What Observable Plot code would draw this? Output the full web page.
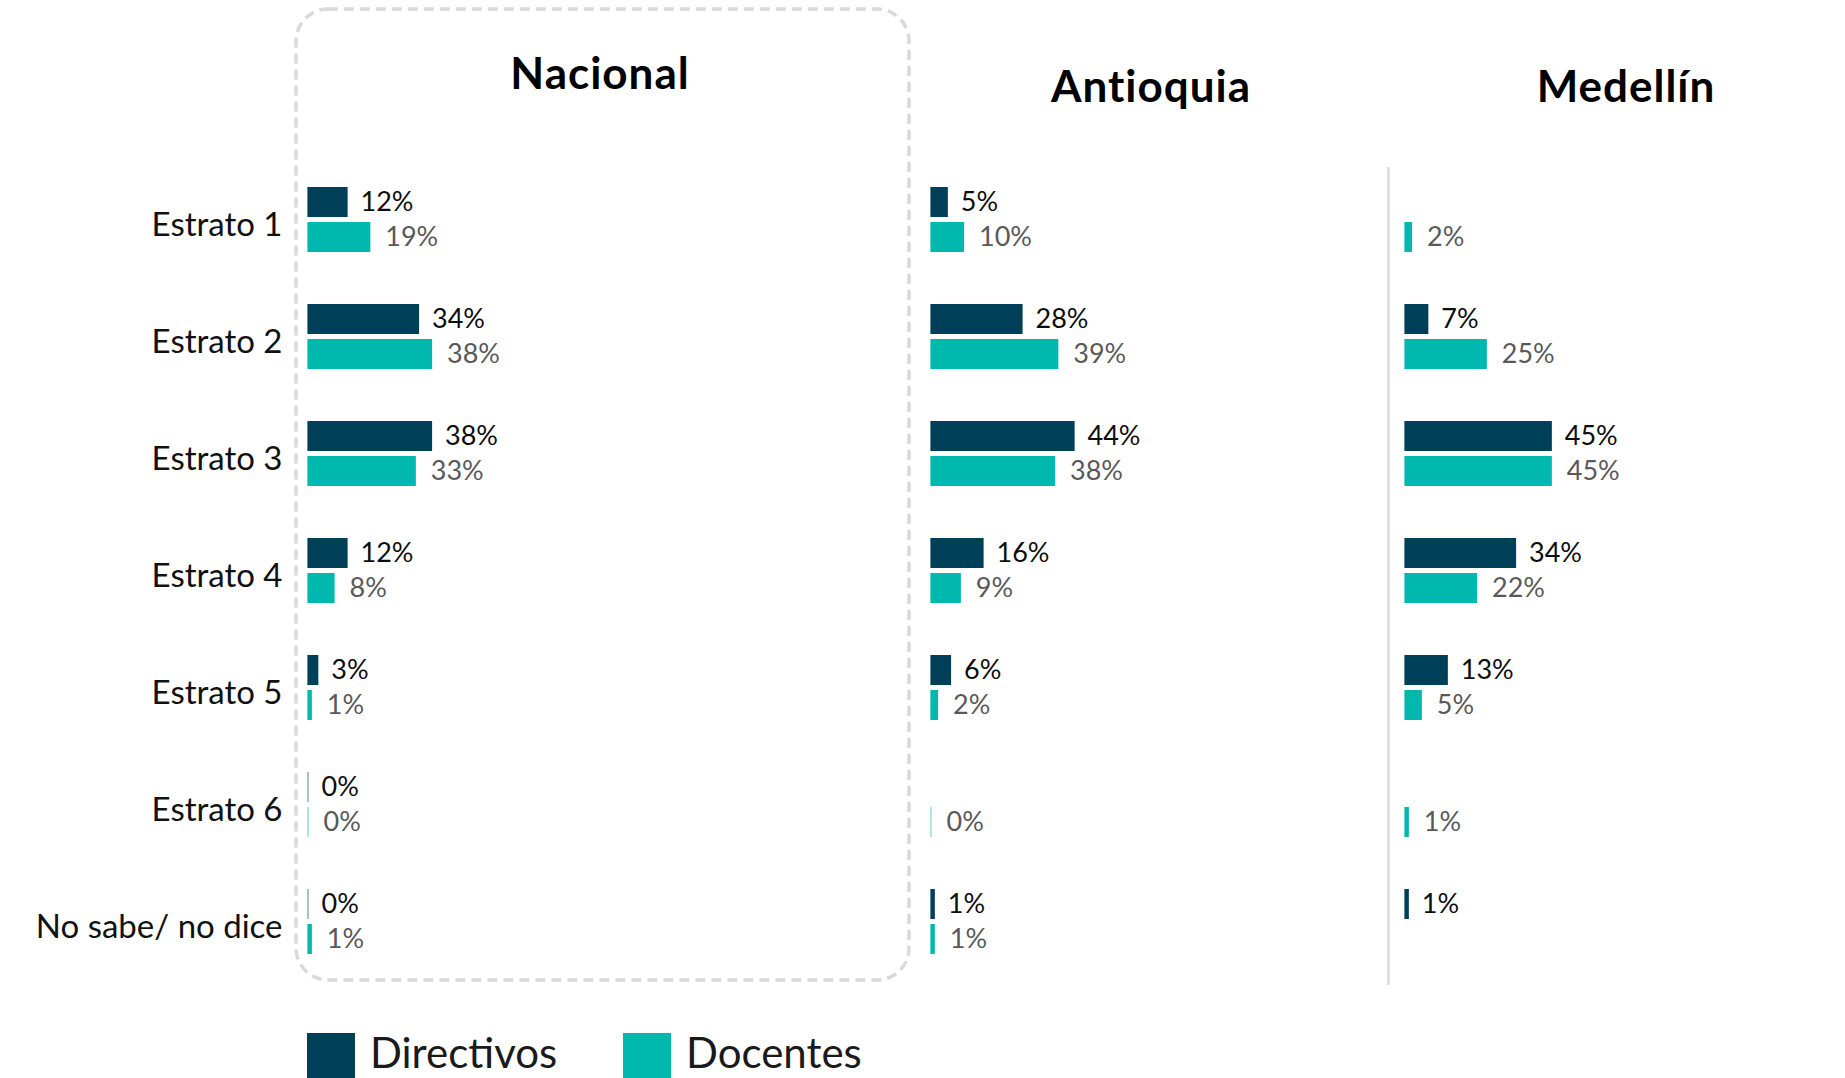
<!DOCTYPE html>
<html><head><meta charset="utf-8">
<script src="https://cdn.jsdelivr.net/npm/d3@7"></script>
<script src="https://cdn.jsdelivr.net/npm/@observablehq/plot@0.6"></script>
<style>
body{margin:0;background:#fff;}
#root{position:relative;width:1845px;height:1078px;overflow:hidden;font-family:Lato,"Noto Sans",sans-serif;background:#fff;}
.layer{position:absolute;top:0;}
</style></head><body><div id="root"></div>
<script>
const estratos = ["Estrato 1","Estrato 2","Estrato 3","Estrato 4","Estrato 5","Estrato 6","No sabe/ no dice"];
const series = ["Directivos","Docentes"];
const colors = ["#003f58","#00b8ae"];
const labelColors = ["#0d0d0d","#595959"];
const regiones = ["Nacional","Antioquia","Medellín"];
const nacionalDirectivos = [12,34,38,12,3,0,0];
const nacionalDocentes = [19,38,33,8,1,0,1];
const antioquiaDirectivos = [5,28,44,16,6,null,1];
const antioquiaDocentes = [10,39,38,9,2,0,1];
const medellinDirectivos = [null,7,45,34,13,null,1];
const medellinDocentes = [2,25,45,22,5,1,null];

const FONT = "Lato, 'Noto Sans', sans-serif";
const root = document.getElementById("root");

// decorative overlay: frame, separator, titles, legend
const ov = d3.select(root).append("svg").attr("class","layer")
  .attr("width",1845).attr("height",1078).style("left","0px");
ov.append("rect").attr("x",296).attr("y",9).attr("width",613).attr("height",971)
  .attr("rx",32).attr("fill","none").attr("stroke","#d9d9d9")
  .attr("stroke-width",3.5).attr("stroke-dasharray","10 6");
ov.append("line").attr("x1",1388.5).attr("x2",1388.5).attr("y1",167).attr("y2",985)
  .attr("stroke","#d9d9d9").attr("stroke-width",2.5);
const titlePos = [[600,89],[1151,102],[1626,102]];
regiones.forEach((r,i)=>{
  ov.append("text").attr("x",titlePos[i][0]).attr("y",titlePos[i][1])
    .attr("text-anchor","middle").attr("font-family",FONT).attr("font-weight",700)
    .attr("font-size",44).attr("letter-spacing",1).attr("fill","#000").text(r);
});
const legX = [307,623];
series.forEach((s,i)=>{
  ov.append("rect").attr("x",legX[i]).attr("y",1033).attr("width",48).attr("height",60).attr("fill",colors[i]);
  ov.append("text").attr("x",legX[i]+63).attr("y",1068).attr("font-family",FONT)
    .attr("font-size",42).attr("fill","#1a1a1a").text(s);
});

function panel(dir, doc, marginLeft, showLabels, left) {
  const data = [];
  estratos.forEach((e,i)=>{
    if (dir[i] != null) data.push({estrato:e, serie:series[0], v:dir[i]});
    if (doc[i] != null) data.push({estrato:e, serie:series[1], v:doc[i]});
  });
  const chart = Plot.plot({
    width: marginLeft + 340, height: 974,
    marginTop: 185, marginBottom: 20, marginLeft, marginRight: 15,
    x: {domain:[0,100], range:[marginLeft, marginLeft+325], axis:null},
    y: {domain: series, paddingInner:0.15, paddingOuter:0, axis:null},
    fy: {domain: estratos, paddingInner:0.436, paddingOuter:0, axis:null},
    color: {domain: series, range: colors},
    style: {fontFamily: FONT, background:"transparent", overflow:"visible"},
    marks: [
      Plot.barX(data, {x:"v", y:"serie", fy:"estrato", fill:"serie", insetLeft:-0.6, insetRight:-0.6,
        fillOpacity: d => d.v === 0 ? 0.55 : 1}),
      Plot.text(data.filter(d=>d.serie===series[0]), {x:"v", y:"serie", fy:"estrato", text:d=>d.v+"%", dx:13, textAnchor:"start", fill:labelColors[0], fontSize:27}),
      Plot.text(data.filter(d=>d.serie===series[1]), {x:"v", y:"serie", fy:"estrato", text:d=>d.v+"%", dx:15, textAnchor:"start", fill:labelColors[1], fontSize:27}),
      showLabels ? Plot.axisFy({anchor:"left", tickSize:0, tickPadding:26, fontSize:33, dy:6, fill:"#111", label:null}) : null
    ]
  });
  chart.classList.add("layer");
  chart.style.left = left + "px";
  root.appendChild(chart);
}
panel(nacionalDirectivos, nacionalDocentes, 308, true, 0);
panel(antioquiaDirectivos, antioquiaDocentes, 10, false, 921);
panel(medellinDirectivos, medellinDocentes, 10, false, 1395);
</script></body></html>
